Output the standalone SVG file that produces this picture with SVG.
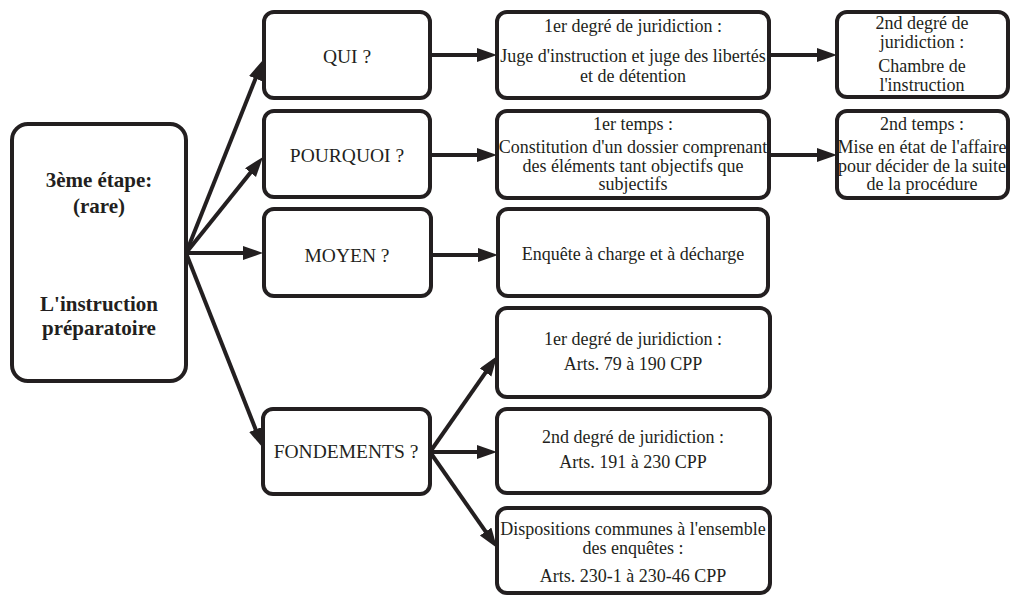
<svg xmlns="http://www.w3.org/2000/svg" width="1010" height="595" viewBox="0 0 1010 595">
<style>
.box{fill:#fff;stroke:#231f20;stroke-width:4}
.t{font-family:"Liberation Serif","Times New Roman",serif;font-size:18px;fill:#231f20;text-anchor:middle}
.q{font-size:19.5px}
.b{font-weight:bold;font-size:21px}
.c line{stroke:#231f20;stroke-width:4;marker-end:url(#ah)}
</style>
<defs>
<marker id="ah" markerUnits="userSpaceOnUse" markerWidth="22" markerHeight="16" viewBox="0 0 22 16" refX="12" refY="7" orient="auto">
<path d="M0,0 L20,7 L0,14 z" fill="#231f20"/>
</marker>
</defs>
<rect width="1010" height="595" fill="#fff"/>
<g class="c">
<line x1="186" y1="253" x2="260" y2="67.4"/>
<line x1="186" y1="253" x2="258" y2="163.2"/>
<line x1="186" y1="253" x2="255" y2="253"/>
<line x1="186" y1="253" x2="260.1" y2="440.6"/>
<line x1="430" y1="452" x2="492.5" y2="362.6"/>
<line x1="430" y1="452" x2="489" y2="452"/>
<line x1="430" y1="452" x2="492.5" y2="541.4"/>
<line x1="430" y1="55" x2="489" y2="55"/>
<line x1="430" y1="155" x2="489" y2="155"/>
<line x1="769" y1="55" x2="829" y2="55"/>
<line x1="769" y1="155" x2="829" y2="155"/>
<line x1="431" y1="255" x2="490" y2="255"/>
</g>
<g id="main">
<rect class="box" x="12" y="124" width="174" height="257" rx="16"/>
<text class="t b" x="99" y="187">3ème étape:</text>
<text class="t b" x="99" y="213">(rare)</text>
<text class="t b" x="99" y="311">L'instruction</text>
<text class="t b" x="99" y="335">préparatoire</text>
</g>
<g id="qui">
<rect class="box" x="264" y="12" width="166" height="86" rx="10"/>
<text class="t q" x="347" y="63">QUI ?</text>
</g>
<g id="pourquoi">
<rect class="box" x="264" y="111" width="166" height="86" rx="10"/>
<text class="t q" x="347" y="162">POURQUOI ?</text>
</g>
<g id="moyen">
<rect class="box" x="264" y="209" width="167" height="87" rx="10"/>
<text class="t q" x="347" y="262">MOYEN ?</text>
</g>
<g id="fondements">
<rect class="box" x="263" y="409" width="167" height="85" rx="10"/>
<text class="t q" x="346" y="458">FONDEMENTS ?</text>
</g>
<g id="qui1">
<rect class="box" x="497" y="12" width="272" height="86" rx="10"/>
<text class="t" x="633" y="32">1er degré de juridiction :</text>
<text class="t" x="633" y="62">Juge d'instruction et juge des libertés</text>
<text class="t" x="633" y="82">et de détention</text>
</g>
<g id="qui2">
<rect class="box" x="837" y="12" width="171" height="85" rx="10"/>
<text class="t" x="922" y="29">2nd degré de</text>
<text class="t" x="922" y="48">juridiction :</text>
<text class="t" x="922" y="72">Chambre de</text>
<text class="t" x="922" y="91">l'instruction</text>
</g>
<g id="pourquoi1">
<rect class="box" x="497" y="111" width="272" height="87" rx="10"/>
<text class="t" x="633" y="130">1er temps :</text>
<text class="t" x="633" y="153">Constitution d'un dossier comprenant</text>
<text class="t" x="633" y="172">des éléments tant objectifs que</text>
<text class="t" x="633" y="190">subjectifs</text>
</g>
<g id="pourquoi2">
<rect class="box" x="837" y="111" width="171" height="87" rx="10"/>
<text class="t" x="922" y="130">2nd temps :</text>
<text class="t" x="922" y="153">Mise en état de l'affaire</text>
<text class="t" x="922" y="172">pour décider de la suite</text>
<text class="t" x="922" y="190">de la procédure</text>
</g>
<g id="moyen1">
<rect class="box" x="498" y="209" width="270" height="87" rx="10"/>
<text class="t" x="633" y="260">Enquête à charge et à décharge</text>
</g>
<g id="fond1">
<rect class="box" x="497" y="308" width="273" height="89" rx="10"/>
<text class="t" x="633" y="345">1er degré de juridiction :</text>
<text class="t" x="633" y="370">Arts. 79 à 190 CPP</text>
</g>
<g id="fond2">
<rect class="box" x="497" y="409" width="273" height="84" rx="10"/>
<text class="t" x="633" y="443">2nd degré de juridiction :</text>
<text class="t" x="633" y="468">Arts. 191 à 230 CPP</text>
</g>
<g id="fond3">
<rect class="box" x="497" y="508" width="273" height="85" rx="10"/>
<text class="t" x="633" y="535">Dispositions communes à l'ensemble</text>
<text class="t" x="633" y="554">des enquêtes :</text>
<text class="t" x="633" y="582">Arts. 230-1 à 230-46 CPP</text>
</g>
</svg>
